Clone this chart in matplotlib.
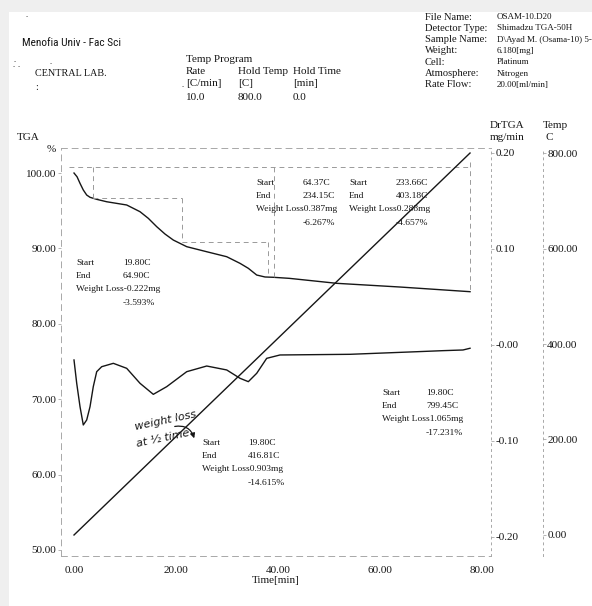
import matplotlib
matplotlib.use("Agg")
import matplotlib.pyplot as plt
from matplotlib import font_manager
from matplotlib.patches import Rectangle, FancyArrowPatch

W_PX, H_PX = 592, 606

# TGA trace: time [min] vs residual weight [%]
tga_time = [0.0, 0.6, 1.18, 1.82, 2.49, 3.14, 4.45, 6.41, 10.33, 12.94, 14.57,
            16.22, 17.84, 19.47, 22.1, 26.02, 29.94, 32.55, 34.18, 35.82,
            37.45, 39.08, 42.22, 51.51, 63.9, 77.65]
tga_pct = [100.0, 99.5, 98.63, 97.75, 97.08, 96.78, 96.51, 96.19, 95.76, 94.87,
           93.99, 92.88, 91.91, 91.11, 90.23, 89.56, 88.9, 88.02, 87.36, 86.47,
           86.21, 86.17, 86.03, 85.37, 84.88, 84.26]

# DrTGA trace: time [min] vs rate [mg/min]
dtg_time = [0.0, 0.53, 1.18, 1.82, 2.49, 3.14, 3.78, 4.45, 5.43, 7.71, 10.33,
            12.94, 15.55, 18.18, 22.1, 26.02, 29.94, 32.55, 34.18, 35.82,
            37.78, 40.39, 54.12, 67.2, 72.35, 76.27, 77.65]
dtg_rate = [-0.0156, -0.0399, -0.0643, -0.0833, -0.0781, -0.0643, -0.0434,
            -0.0278, -0.0226, -0.0191, -0.0243, -0.0399, -0.0514, -0.0434,
            -0.0278, -0.0219, -0.0260, -0.0347, -0.0382, -0.0295, -0.0139,
            -0.0104, -0.0097, -0.0070, -0.0059, -0.0052, -0.0034]

# furnace temperature program
temp_time = [0.0, 77.65]
temp_c = [0.0, 800.0]

# weight-loss step marker lines on the TGA scale
box_h = [(-1.0, 77.65, 100.8), (3.8, 21.2, 96.7), (21.2, 38.0, 90.9)]
box_v = [(3.8, 100.8, 96.7), (21.2, 96.7, 90.9), (38.0, 90.9, 86.6),
         (39.2, 100.8, 86.2), (77.65, 101.5, 84.2)]

x_ticks = [0, 20, 40, 60, 80]
tga_ticks = [100, 90, 80, 70, 60, 50]
dtg_ticks = [0.2, 0.1, 0.0, -0.1, -0.2]
dtg_labels = ["0.20", "0.10", "-0.00", "-0.10", "-0.20"]
temp_ticks = [800, 600, 400, 200, 0]

# step analysis results: start, end, loss [mg], loss [%]
steps = [
    ("19.80C", "64.90C", "Weight Loss-0.222mg", "-3.593%"),
    ("64.37C", "234.15C", "Weight Loss0.387mg", "-6.267%"),
    ("233.66C", "403.18C", "Weight Loss0.288mg", "-4.657%"),
    ("19.80C", "416.81C", "Weight Loss0.903mg", "-14.615%"),
    ("19.80C", "799.45C", "Weight Loss1.065mg", "-17.231%"),
]
step_pos = [(76, 263, 47), (256, 183, 47), (349, 183, 47), (202, 443, 46), (382, 393, 44)]

info_keys = ["File Name:", "Detector Type:", "Sample Name:", "Weight:", "Cell:",
             "Atmosphere:", "Rate Flow:"]
info_vals = ["OSAM-10.D20", "Shimadzu TGA-50H", "D\\Ayad M. (Osama-10) 5-",
             "6.180[mg]", "Platinum", "Nitrogen", "20.00[ml/min]"]

names = {f.name for f in font_manager.fontManager.ttflist}
SERIF = "Liberation Serif"
NARROW = next((n for n in ["Liberation Sans Narrow", "Roboto Condensed",
                           "Open Sans Condensed"] if n in names), "Liberation Sans")
INK = "#161616"
GRID = "#a8a8a8"

plt.rcParams["font.family"] = SERIF
plt.rcParams["text.color"] = INK


def fx(x):
    return x / W_PX


def fy(y):
    return 1 - y / H_PX


def put(x, y, s, size=6.8, **kw):
    fig.text(fx(x), fy(y), s, fontsize=size, va="center", ha=kw.pop("ha", "left"),
             color=INK, **kw)


fig = plt.figure(figsize=(W_PX / 100, H_PX / 100), dpi=100, facecolor="#efefef")
fig.patches.append(Rectangle((fx(9), 0), 1, fy(12), transform=fig.transFigure,
                             facecolor="white", edgecolor="none", zorder=-10))

# plot frame in pixels: left 61, right 491, top 148, bottom 556
ax = fig.add_axes([fx(61), fy(556), fx(491) - fx(61), fy(148) - fy(556)])
ax.patch.set_alpha(0)
ax_d = ax.twinx()
ax_t = ax.twinx()

ax.set_xlim(-2.55, 81.76)
ax.set_ylim(49.2, 103.32)
ax_d.set_ylim(-0.2198, 0.2052)
ax_t.set_ylim(-44.0, 810.5)

ax.plot(tga_time, tga_pct, color=INK, lw=1.0)
ax_d.plot(dtg_time, dtg_rate, color=INK, lw=1.0)
ax_t.plot(temp_time, temp_c, color=INK, lw=1.0)

dash = dict(color="#9a9a9a", lw=0.7, ls=(0, (5, 4)))
for t0, t1, w in box_h:
    ax.plot([t0, t1], [w, w], **dash)
for t, w0, w1 in box_v:
    ax.plot([t, t], [w0, w1], **dash)

# frame: faint dashed lines like the printout
for a in (ax, ax_d, ax_t):
    for s in a.spines.values():
        s.set_visible(False)
for side in ("left", "bottom", "top"):
    sp = ax.spines[side]
    sp.set_visible(True)
    sp.set_color(GRID)
    sp.set_linewidth(0.7)
    sp.set_linestyle((0, (6, 5)))
for a in (ax_d, ax_t):
    sp = a.spines["right"]
    sp.set_visible(True)
    sp.set_color(GRID)
    sp.set_linewidth(0.7)
    sp.set_linestyle((0, (2, 4)))
ax_t.spines["right"].set_position(("axes", (543 - 61) / (491 - 61)))

ax.set_xticks(x_ticks, labels=[f"{v:.2f}" for v in x_ticks])
ax.set_yticks(tga_ticks, labels=[f"{v:.2f}" for v in tga_ticks])
ax_d.set_yticks(dtg_ticks, labels=dtg_labels)
ax_t.set_yticks(temp_ticks, labels=[f"{v:.2f}" for v in temp_ticks])

ax.tick_params(axis="x", length=0, pad=7, labelsize=8, labelcolor=INK)
ax.tick_params(axis="y", length=2, width=0.6, color=GRID, pad=1.5,
               labelsize=8, labelcolor=INK)
for a in (ax_d, ax_t):
    a.tick_params(axis="y", length=2, width=0.6, color=GRID, pad=1,
                  labelsize=8, labelcolor=INK)
ax.set_xlabel("Time[min]", fontsize=8, labelpad=1, color=INK)

# axis titles
put(17, 137, "TGA", size=8)
put(47, 149, "%", size=8)
put(490, 126, "DrTGA", size=8)
put(490, 138, "mg/min", size=8)
put(543, 126, "Temp", size=8)
put(545, 138, "C", size=8)

# header block
put(22, 43, "Menofia Univ - Fac Sci", size=8.2, family=NARROW)
put(35, 73, "CENTRAL LAB.", size=7.3)
put(35, 88, ":", size=7.3)
for x, y in [(25, 15), (13, 60), (12, 65), (17, 65), (49, 62), (181, 85)]:
    put(x, y, ".", size=6)

put(186, 59, "Temp Program", size=8)
for col, head, unit, val in [(186, "Rate", "[C/min]", "10.0"),
                             (238, "Hold Temp", "[C]", "800.0"),
                             (293, "Hold Time", "[min]", "0.0")]:
    put(col, 72, head, size=8)
    put(col, 84, unit, size=8)
    put(col, 97, val, size=8)

for i, (k, v) in enumerate(zip(info_keys, info_vals)):
    y = 17 + i * 11.3
    put(425, y, k, size=7.6)
    put(497, y, v, size=6.5)

# step annotation blocks
for (start, end, loss, pct), (x, y, dx) in zip(steps, step_pos):
    put(x, y, "Start")
    put(x + dx, y, start)
    put(x, y + 13, "End")
    put(x + dx, y + 13, end)
    put(x, y + 26, loss)
    put(x + dx, y + 40, pct)

# handwritten note
put(166, 421, "weight loss", size=8, ha="center", rotation=12,
    family="DejaVu Sans", style="oblique")
put(163, 438, "at \u00bd time", size=8, ha="center", rotation=12,
    family="DejaVu Sans", style="oblique")
fig.patches.append(FancyArrowPatch((fx(172), fy(427)), (fx(195), fy(441)),
                                   transform=fig.transFigure,
                                   connectionstyle="arc3,rad=-0.5",
                                   arrowstyle="-|>", mutation_scale=7,
                                   lw=0.9, color=INK))

fig.savefig("out.png", dpi=100, facecolor=fig.get_facecolor())
